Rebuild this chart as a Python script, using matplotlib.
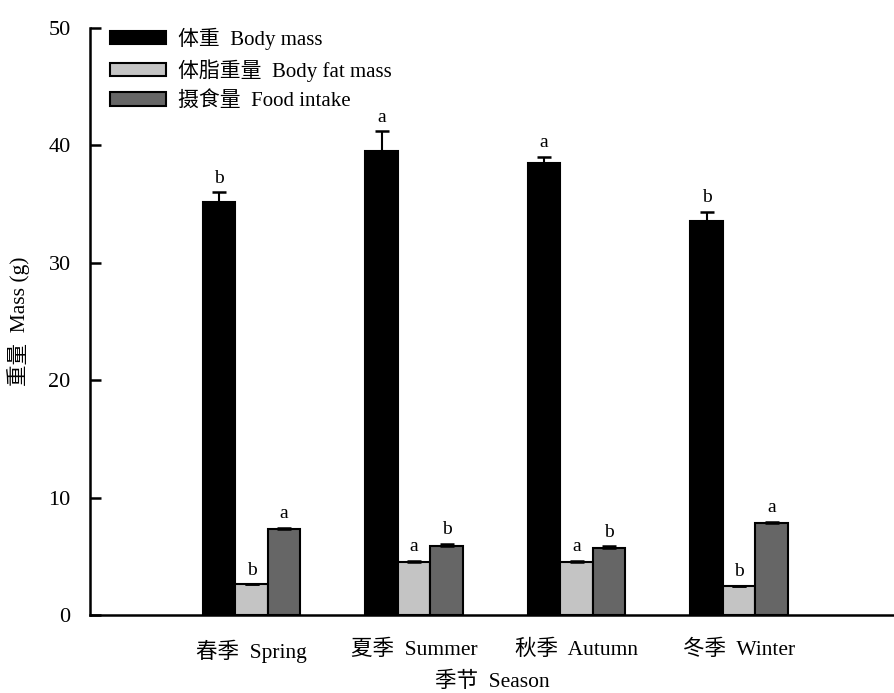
import numpy as np
import matplotlib.pyplot as plt

plt.rcParams['font.family'] = ['Liberation Serif', 'Noto Sans CJK SC', 'DejaVu Sans']

seasons = ['春季  Spring', '夏季  Summer', '秋季  Autumn', '冬季  Winter']
series = ['体重  Body mass', '体脂重量  Body fat mass', '摄食量  Food intake']

body_mass = [35.2, 39.5, 38.5, 33.6]
body_mass_err = [0.8, 1.7, 0.55, 0.75]
fat_mass = [2.6, 4.5, 4.5, 2.5]
fat_mass_err = [0.0, 0.12, 0.12, 0.0]
food_intake = [7.3, 5.9, 5.7, 7.8]
food_intake_err = [0.15, 0.15, 0.15, 0.15]

letters_mass = ['b', 'a', 'a', 'b']
letters_fat = ['b', 'a', 'a', 'b']
letters_food = ['a', 'b', 'b', 'a']

colors = ['#000000', '#c4c4c4', '#666666']

fig = plt.figure(figsize=(8.95, 6.93), dpi=100)
ax = fig.add_axes([0.1006, 0.1126, 0.8994, 0.847])

x = np.arange(len(seasons))
w = 0.2
data = [(body_mass, body_mass_err, letters_mass),
        (fat_mass, fat_mass_err, letters_fat),
        (food_intake, food_intake_err, letters_food)]

for k, (vals, errs, lets) in enumerate(data):
    pos = x + (k - 1) * w
    ax.bar(pos, vals, width=w, color=colors[k], edgecolor='black',
           linewidth=1.5, label=series[k], zorder=2)
    ax.errorbar(pos, vals, yerr=[np.zeros(len(errs)), errs], fmt='none',
                ecolor='black', elinewidth=1.5, capsize=5, capthick=1.8,
                zorder=3)
    for px, v, e, t in zip(pos, vals, errs, lets):
        ax.annotate(t, (px, v + e), xytext=(0, 4), textcoords='offset points',
                    ha='center', va='bottom', fontsize=14)

ax.set_xlim(-0.995, 3.96)
ax.set_ylim(0, 50)
ax.set_yticks(np.arange(0, 51, 10))
ax.set_xticks(x)
ax.set_xticklabels(seasons, fontsize=15.5)
ax.tick_params(axis='y', direction='in', length=8, width=1.8, labelsize=16, pad=14)
ax.tick_params(axis='x', length=0, pad=18)
for s in ['top', 'right']:
    ax.spines[s].set_visible(False)
for s in ['left', 'bottom']:
    ax.spines[s].set_linewidth(1.8)

ax.set_ylabel('重量  Mass (g)', fontsize=15.5)
ax.yaxis.set_label_coords(-0.075, 0.5)
ax.set_xlabel('季节  Season', fontsize=15.5, labelpad=6)

ax.legend(loc='upper left', bbox_to_anchor=(0.114, 0.972),
          bbox_transform=fig.transFigure, frameon=False, fontsize=15,
          handlelength=2.65, handleheight=0.6, labelspacing=0.45,
          handletextpad=0.6, borderaxespad=0)

fig.savefig('out.png', dpi=100)
